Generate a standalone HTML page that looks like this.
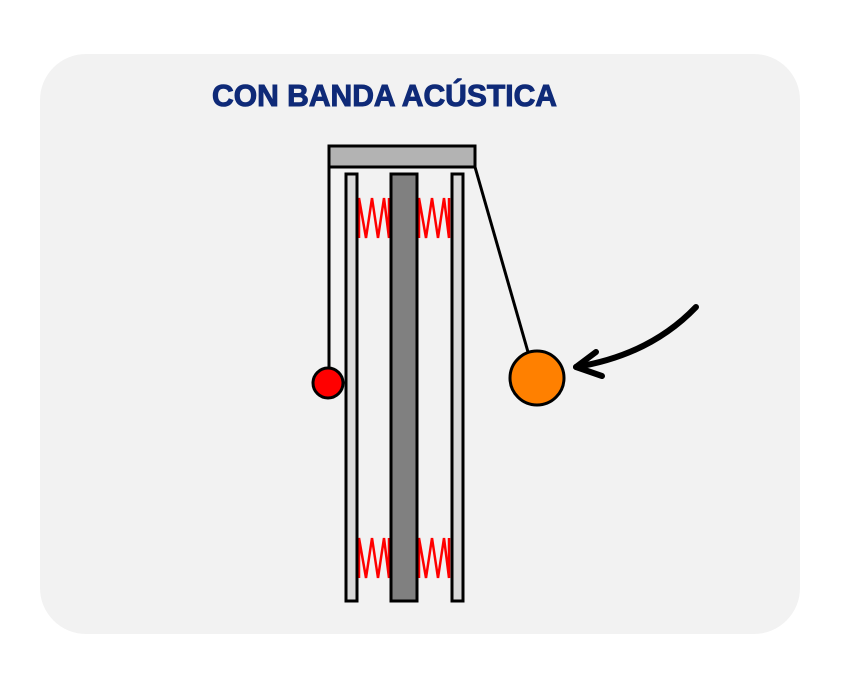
<!DOCTYPE html>
<html><head><style>html,body{margin:0;padding:0;background:#fff;}</style></head>
<body>
<svg width="842" height="676" viewBox="0 0 842 676" xmlns="http://www.w3.org/2000/svg">
<rect x="40" y="54" width="760" height="580" rx="46" fill="#f2f2f2"/>
<text x="212" y="106" font-family="Liberation Sans, sans-serif" font-weight="bold" font-size="31" fill="#0f2a78" stroke="#0f2a78" stroke-width="1" textLength="345" lengthAdjust="spacingAndGlyphs">CON BANDA ACÚSTICA</text>
<g fill="none" stroke="#ff0000" stroke-width="2.5">
<polyline points="359,238 359,198 366,238 372,198 378,238 384,198 389,238 389,198"/>
<polyline points="419,238 419,198 426,238 432,198 438,238 444,198 449,238 449,198"/>
<polyline points="359,578 359,538 366,578 372,538 378,578 384,538 389,578 389,538"/>
<polyline points="419,578 419,538 426,578 432,538 438,578 444,538 449,578 449,538"/>
</g>
<g stroke="#000" stroke-width="3">
<rect x="346" y="174" width="11" height="427" fill="#d9d9d9"/>
<rect x="452" y="174" width="11" height="427" fill="#d9d9d9"/>
<rect x="391" y="174" width="26" height="427" fill="#808080"/>
<rect x="329" y="146" width="146" height="21" fill="#b3b3b3"/>
</g>
<line x1="329" y1="167" x2="329" y2="368" stroke="#000" stroke-width="3"/>
<line x1="475" y1="167" x2="528" y2="352" stroke="#000" stroke-width="3"/>
<circle cx="328" cy="383" r="15" fill="#ff0000" stroke="#000" stroke-width="3"/>
<circle cx="537" cy="378" r="27" fill="#ff8000" stroke="#000" stroke-width="3"/>
<g fill="none" stroke="#000" stroke-width="6" stroke-linecap="round" stroke-linejoin="round">
<path d="M696,307 Q650,355 576,367"/>
<polyline points="596,352 576,367 602,376"/>
</g>
</svg>
</body></html>
